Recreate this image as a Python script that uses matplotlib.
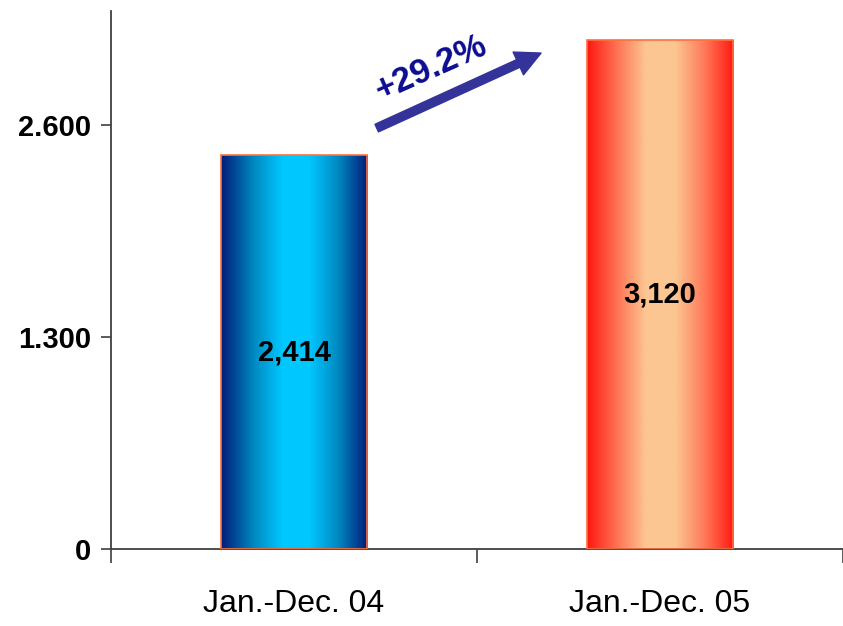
import numpy as np
import matplotlib
matplotlib.use("Agg")
import matplotlib.pyplot as plt
from matplotlib.colors import LinearSegmentedColormap

# sales volume, Jan.-Dec. 2004 vs 2005
categories = ["Jan.-Dec. 04", "Jan.-Dec. 05"]
values = [2414, 3120]
value_labels = ["2,414", "3,120"]
yticks = [0, 1300, 2600]
ytick_labels = ["0", "1.300", "2.600"]
growth_label = "+29.2%"

font = ["Liberation Sans", "DejaVu Sans"]

blue_cmap = LinearSegmentedColormap.from_list(
    "blue_bar", [(0, "#001c78"), (0.22, "#0088c0"), (0.42, "#00c8ff"),
                 (0.6, "#00c8ff"), (0.8, "#0088c0"), (1, "#001c78")])
red_cmap = LinearSegmentedColormap.from_list(
    "red_bar", [(0, "#ff1810"), (0.22, "#ff7a5a"), (0.4, "#fcc692"),
                (0.6, "#fcc692"), (0.8, "#ff7a5a"), (1, "#ff1810")])
cmaps = [blue_cmap, red_cmap]

fig = plt.figure(figsize=(8.43, 6.26), dpi=100)
ax = fig.add_axes([0.1317, 0.123, 0.8683, 0.8597])

x = np.arange(len(categories))
width = 0.4
grad = np.linspace(0, 1, 256).reshape(1, -1)
for xi, v, cm in zip(x, values, cmaps):
    ax.imshow(grad, cmap=cm, aspect="auto", interpolation="bilinear",
              extent=(xi - width / 2, xi + width / 2, 0, v), zorder=2)
bars = ax.bar(x, values, width, fill=False, edgecolor="#ff7040", linewidth=1.2, zorder=3)

for xi, v, lab in zip(x, values, value_labels):
    ax.text(xi, v / 2, lab, ha="center", va="center", fontsize=21,
            fontweight="bold", family=font, zorder=4)

ax.set_xlim(-0.5, 1.468)
ax.set_ylim(0, 3300)

ax.set_yticks(yticks)
ax.set_yticklabels(ytick_labels, fontsize=21, fontweight="bold", family=font)
ax.set_xticks([-0.5, 0.5, 1.5])
ax.set_xticklabels([])
ax.set_xticks(x, minor=True)
ax.set_xticklabels(categories, minor=True, fontsize=23, family=font)
ax.tick_params(axis="x", which="major", direction="out", length=10, width=1.2, color="#404040")
ax.tick_params(axis="x", which="minor", length=0, pad=29)
ax.tick_params(axis="y", direction="out", length=7, width=1.2, color="#404040", pad=7)

for side in ["top", "right"]:
    ax.spines[side].set_visible(False)
for side in ["left", "bottom"]:
    ax.spines[side].set_color("#404040")
    ax.spines[side].set_linewidth(1.3)

# growth arrow between the two bars
ax.annotate("", xy=(0.675, 3041), xytext=(0.226, 2581),
            arrowprops=dict(width=6, headwidth=18, headlength=18,
                            color="#333399", shrink=0), zorder=5)
ax.text(0.375, 2950, growth_label, rotation=24, ha="center", va="center",
        fontsize=25, fontweight="bold", color="#0c0c90",
        family=font, rotation_mode="anchor")

fig.savefig("out.png", dpi=100)
